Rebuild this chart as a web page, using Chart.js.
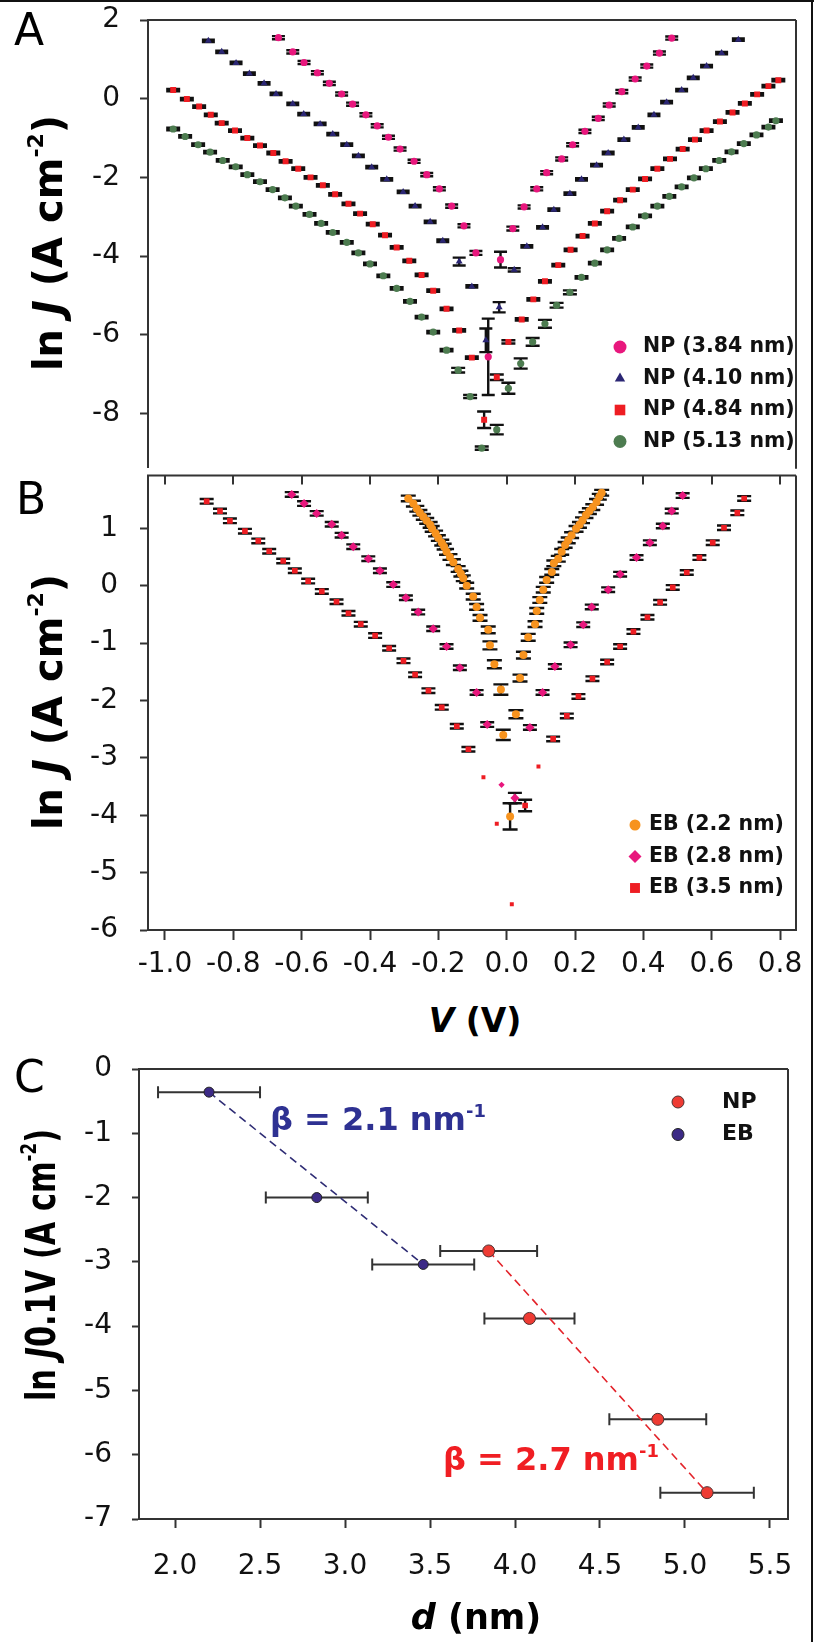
<!DOCTYPE html>
<html lang="en">
<head>
<meta charset="utf-8">
<title>ln J vs V and d</title>
<script src="https://cdn.jsdelivr.net/npm/chart.js@4.4.1/dist/chart.umd.min.js"></script>
<style>
  html, body { margin: 0; padding: 0; background: #fff; }
  #fig { position: relative; width: 814px; height: 1642px; overflow: hidden; font-family: 'DejaVu Sans', sans-serif; color: #000; }
  #fig canvas { position: absolute; left: 0; }
  .edge-top { position: absolute; left: 0; top: 0; width: 814px; height: 2px; background: #111; }
  .edge-right { position: absolute; left: 811px; top: 0; width: 2px; height: 1642px; background: #111; }
  .txt { position: absolute; white-space: nowrap; line-height: 1; }
  .panel { font-size: 44px; }
  .ytitle { font-size: 40px; font-weight: bold; transform: translate(-50%, -50%) rotate(-90deg); }
  .ytitle.narrow { transform: translate(-50%, -50%) rotate(-90deg) scaleX(0.76); }
  .xtitle { font-weight: bold; transform: translate(-50%, -50%); }
  .sup { font-size: 0.55em; position: relative; top: -0.85em; }
  .beta { font-size: 32px; font-weight: bold; }
  .beta .sup { font-size: 0.56em; top: -0.7em; }
</style>
</head>
<body>
<div id="fig">
  <canvas id="chartA" width="814" height="472" style="top:0"></canvas>
  <canvas id="chartB" width="814" height="529" style="top:471px"></canvas>
  <canvas id="chartC" width="814" height="592" style="top:1050px"></canvas>
  <div class="edge-top"></div>
  <div class="edge-right"></div>

  <div class="txt panel" style="left:14px;top:8px">A</div>
  <div class="txt panel" style="left:16px;top:477px">B</div>
  <div class="txt panel" style="left:14px;top:1055px">C</div>

  <div class="txt ytitle" style="left:48px;top:243px">ln <i>J</i> (A cm<span class="sup">-2</span>)</div>
  <div class="txt ytitle" style="left:48px;top:702px">ln <i>J</i> (A cm<span class="sup">-2</span>)</div>
  <div class="txt ytitle narrow" style="left:41px;top:1265px">ln <i>J</i>0.1V (A cm<span class="sup">-2</span>)</div>
  <div class="txt xtitle" style="left:475px;top:1020px;font-size:33px"><i>V</i> (V)</div>
  <div class="txt xtitle" style="left:476px;top:1617px;font-size:35px"><i>d</i> (nm)</div>

  <div class="txt beta" style="left:270px;top:1103px;color:#2e3192">β = 2.1 nm<span class="sup">-1</span></div>
  <div class="txt beta" style="left:443px;top:1443px;color:#f01e23">β = 2.7 nm<span class="sup">-1</span></div>
</div>

<script>
// ---------------------------------------------------------------------------
// Data: [V (V), ln J, error in ln J]
// ---------------------------------------------------------------------------
const vTicks = [-1.0, -0.8, -0.6, -0.4, -0.2, 0.0, 0.2, 0.4, 0.6, 0.8];
const lnJTicksA = [2, 0, -2, -4, -6, -8];
const lnJTicksB = [1, 0, -1, -2, -3, -4, -5, -6];
const dTicks = [2.0, 2.5, 3.0, 3.5, 4.0, 4.5, 5.0, 5.5];
const lnJTicksC = [0, -1, -2, -3, -4, -5, -6, -7];

const labelsA = ['NP (3.84 nm)', 'NP (4.10 nm)', 'NP (4.84 nm)', 'NP (5.13 nm)'];
const labelsB = ['EB (2.2 nm)', 'EB (2.8 nm)', 'EB (3.5 nm)'];
const labelsC = ['NP', 'EB'];

// Panel A - nanoparticle junctions
const np384 = [
  [-0.668, 1.55, .04], [-0.626, 1.19, .04], [-0.593, 0.92, .04], [-0.554, 0.66, .04], [-0.519, 0.39, .04],
  [-0.483, 0.12, .04], [-0.451, -0.14, .04], [-0.412, -0.41, .04], [-0.379, -0.69, .04], [-0.346, -0.98, .04],
  [-0.312, -1.28, .04], [-0.271, -1.59, .04], [-0.234, -1.93, .04], [-0.197, -2.29, .04], [-0.161, -2.73, .04],
  [-0.125, -3.23, .04], [-0.090, -3.92, .05], [-0.054, -6.56, .97], [-0.018, -4.09, .2], [0.018, -3.30, .05],
  [0.051, -2.75, .04], [0.088, -2.29, .04], [0.117, -1.88, .04], [0.161, -1.53, .04], [0.193, -1.17, .04],
  [0.229, -0.83, .04], [0.268, -0.50, .04], [0.300, -0.16, .04], [0.337, 0.18, .04], [0.376, 0.50, .04],
  [0.410, 0.83, .04], [0.447, 1.16, .04], [0.483, 1.54, .04]
];
const np410 = [
  [-0.873, 1.47, .03], [-0.834, 1.19, .03], [-0.792, 0.91, .03], [-0.753, 0.64, .03], [-0.710, 0.39, .03],
  [-0.675, 0.12, .03], [-0.626, -0.13, .03], [-0.594, -0.39, .03], [-0.546, -0.64, .03], [-0.509, -0.90, .03],
  [-0.468, -1.17, .03], [-0.434, -1.45, .03], [-0.395, -1.74, .03], [-0.351, -2.05, .03], [-0.303, -2.37, .03],
  [-0.268, -2.73, .03], [-0.224, -3.13, .03], [-0.187, -3.61, .03], [-0.139, -4.14, .1], [-0.102, -4.77, .03],
  [-0.061, -6.14, .3], [-0.022, -5.30, .13], [0.022, -4.35, .04], [0.059, -3.75, .03], [0.105, -3.27, .03],
  [0.138, -2.82, .03], [0.185, -2.41, .03], [0.219, -2.05, .03], [0.263, -1.69, .03], [0.297, -1.38, .03],
  [0.343, -1.04, .03], [0.385, -0.73, .03], [0.431, -0.41, .03], [0.468, -0.09, .03], [0.512, 0.22, .03],
  [0.546, 0.53, .03], [0.585, 0.83, .03], [0.629, 1.16, .03], [0.678, 1.50, .03]
];
const np484 = [
  [-0.976, 0.22, .03], [-0.936, -0.01, .03], [-0.900, -0.20, .03], [-0.866, -0.41, .03], [-0.834, -0.62, .03],
  [-0.795, -0.81, .03], [-0.759, -1.00, .03], [-0.722, -1.19, .03], [-0.683, -1.38, .03], [-0.647, -1.59, .03],
  [-0.610, -1.78, .03], [-0.574, -2.00, .03], [-0.538, -2.20, .03], [-0.502, -2.43, .03], [-0.463, -2.67, .03],
  [-0.429, -2.92, .03], [-0.392, -3.19, .03], [-0.356, -3.47, .03], [-0.322, -3.78, .03], [-0.285, -4.12, .03],
  [-0.249, -4.48, .03], [-0.215, -4.88, .03], [-0.176, -5.34, .03], [-0.139, -5.89, .03], [-0.102, -6.58, .03],
  [-0.066, -8.16, .21], [-0.029, -7.08, .07], [0.005, -6.18, .04], [0.044, -5.61, .03], [0.078, -5.10, .03],
  [0.112, -4.64, .03], [0.151, -4.23, .03], [0.187, -3.84, .03], [0.222, -3.49, .03], [0.258, -3.17, .03],
  [0.294, -2.86, .03], [0.332, -2.58, .03], [0.369, -2.31, .03], [0.405, -2.04, .03], [0.441, -1.78, .03],
  [0.478, -1.53, .03], [0.515, -1.28, .03], [0.551, -1.04, .03], [0.585, -0.81, .03], [0.624, -0.58, .03],
  [0.661, -0.35, .03], [0.697, -0.12, .03], [0.733, 0.11, .03], [0.766, 0.32, .03], [0.795, 0.47, .03]
];
const np513 = [
  [-0.976, -0.77, .03], [-0.941, -0.96, .03], [-0.903, -1.17, .03], [-0.868, -1.36, .03], [-0.831, -1.57, .03],
  [-0.793, -1.73, .03], [-0.759, -1.93, .03], [-0.722, -2.11, .03], [-0.685, -2.31, .03], [-0.649, -2.52, .03],
  [-0.617, -2.73, .03], [-0.577, -2.94, .03], [-0.543, -3.17, .03], [-0.509, -3.40, .03], [-0.468, -3.65, .03],
  [-0.434, -3.92, .03], [-0.400, -4.20, .03], [-0.361, -4.50, .03], [-0.322, -4.82, .03], [-0.283, -5.15, .03],
  [-0.249, -5.55, .03], [-0.215, -5.93, .03], [-0.176, -6.39, .03], [-0.142, -6.90, .06], [-0.107, -7.57, .04],
  [-0.073, -8.88, .04], [-0.029, -8.41, .12], [0.005, -7.36, .14], [0.041, -6.73, .13], [0.076, -6.18, .1],
  [0.112, -5.72, .1], [0.146, -5.25, .06], [0.185, -4.92, .05], [0.219, -4.54, .03], [0.258, -4.18, .03],
  [0.294, -3.84, .03], [0.329, -3.55, .03], [0.369, -3.26, .03], [0.405, -2.98, .03], [0.441, -2.73, .03],
  [0.476, -2.48, .03], [0.512, -2.24, .03], [0.548, -2.01, .03], [0.583, -1.78, .03], [0.622, -1.57, .03],
  [0.658, -1.35, .03], [0.694, -1.14, .03], [0.731, -0.92, .03], [0.766, -0.72, .03], [0.788, -0.56, .03]
];

// Panel B - e-beam junctions
const eb22 = [
  [-0.288, 1.52, .05], [-0.273, 1.43, .05], [-0.263, 1.34, .05], [-0.254, 1.27, .05], [-0.244, 1.20, .05],
  [-0.234, 1.13, .05], [-0.224, 1.06, .05], [-0.218, 0.99, .05], [-0.208, 0.91, .05], [-0.200, 0.83, .05],
  [-0.190, 0.75, .05], [-0.183, 0.68, .05], [-0.176, 0.59, .05], [-0.166, 0.50, .05], [-0.156, 0.41, .05],
  [-0.142, 0.29, .05], [-0.134, 0.21, .05], [-0.127, 0.13, .05], [-0.117, 0.00, .05], [-0.098, -0.19, .05],
  [-0.088, -0.37, .05], [-0.078, -0.56, .05], [-0.054, -0.77, .06], [-0.049, -1.04, .07], [-0.036, -1.37, .07],
  [-0.017, -1.81, .09], [-0.010, -2.60, .09], [0.010, -4.02, .23], [0.027, -2.24, .07], [0.039, -1.61, .06],
  [0.049, -1.21, .06], [0.063, -0.90, .06], [0.083, -0.67, .05], [0.088, -0.44, .05], [0.097, -0.25, .05],
  [0.107, -0.07, .05], [0.117, 0.10, .05], [0.132, 0.24, .05], [0.138, 0.39, .05], [0.151, 0.47, .05],
  [0.161, 0.59, .05], [0.171, 0.71, .05], [0.180, 0.79, .05], [0.190, 0.88, .05], [0.203, 0.99, .05],
  [0.213, 1.06, .05], [0.222, 1.14, .05], [0.232, 1.23, .05], [0.242, 1.30, .05], [0.252, 1.37, .05],
  [0.263, 1.46, .05], [0.271, 1.55, .05], [0.278, 1.62, .05]
];
const eb28 = [
  [-0.629, 1.59, .04], [-0.593, 1.43, .04], [-0.556, 1.26, .04], [-0.512, 1.07, .04], [-0.483, 0.88, .04],
  [-0.449, 0.68, .04], [-0.405, 0.47, .04], [-0.371, 0.26, .04], [-0.332, 0.02, .04], [-0.295, -0.21, .04],
  [-0.259, -0.46, .04], [-0.215, -0.75, .04], [-0.176, -1.06, .04], [-0.137, -1.43, .04], [-0.088, -1.86, .04],
  [-0.057, -2.42, .04], [-0.015, -3.47, 0], [0.024, -3.70, .09], [0.068, -2.47, .04], [0.105, -1.86, .04],
  [0.141, -1.41, .04], [0.187, -1.03, .04], [0.224, -0.68, .04], [0.249, -0.37, .04], [0.297, -0.07, .04],
  [0.332, 0.20, .04], [0.380, 0.49, .04], [0.419, 0.75, .04], [0.457, 1.04, .04], [0.483, 1.30, .04],
  [0.515, 1.57, .04]
];
const eb35 = [
  [-0.878, 1.47, .04], [-0.839, 1.30, .04], [-0.810, 1.13, .04], [-0.766, 0.95, .04], [-0.727, 0.78, .04],
  [-0.695, 0.60, .04], [-0.654, 0.43, .04], [-0.620, 0.26, .04], [-0.581, 0.08, .04], [-0.541, -0.10, .04],
  [-0.498, -0.28, .04], [-0.463, -0.48, .04], [-0.427, -0.67, .04], [-0.385, -0.87, .04], [-0.344, -1.09, .04],
  [-0.302, -1.31, .04], [-0.268, -1.55, .04], [-0.229, -1.83, .04], [-0.190, -2.12, .04], [-0.146, -2.45, .04],
  [-0.112, -2.85, .04], [-0.068, -3.34, 0], [-0.029, -4.15, 0], [0.015, -5.55, 0], [0.054, -3.83, .1],
  [0.093, -3.15, 0], [0.136, -2.67, .04], [0.176, -2.27, .04], [0.210, -1.93, .04], [0.251, -1.62, .04],
  [0.294, -1.33, .04], [0.332, -1.06, .04], [0.371, -0.80, .04], [0.412, -0.55, .04], [0.449, -0.29, .04],
  [0.486, -0.03, .04], [0.527, 0.23, .04], [0.564, 0.49, .04], [0.603, 0.75, .04], [0.636, 1.01, .04],
  [0.675, 1.27, .04], [0.695, 1.52, .04]
];

// Panel C - ln J at 0.1 V against thickness d (nm), with spread in d
const npD = [3.845, 4.085, 4.84, 5.13];
const npJ = [-2.83, -3.88, -5.45, -6.59];
const npDErr = [0.285, 0.265, 0.285, 0.275];
const ebD = [2.2, 2.834, 3.46];
const ebJ = [-0.36, -2.0, -3.04];
const ebDErr = [0.3, 0.3, 0.3];
const ebFitD = [2.2, 3.46];
const ebFitJ = [-0.36, -3.04];
const npFitD = [3.845, 5.13];
const npFitJ = [-2.83, -6.59];

// ---------------------------------------------------------------------------
// Chart setup
// ---------------------------------------------------------------------------
Chart.defaults.font.family = "'DejaVu Sans', sans-serif";
Chart.defaults.font.size = 28;
Chart.defaults.color = '#111';

const AXIS = '#333';
const toPts = arr => arr.map(([x, y, e]) => ({ x, y, e }));

// error bars drawn underneath the markers
const errorBars = {
  id: 'errorBars',
  beforeDatasetsDraw(chart) {
    const { ctx } = chart;
    const xs = chart.scales.x, ys = chart.scales.y;
    chart.data.datasets.forEach(ds => {
      if (!ds.errBar) return;
      const cap = ds.errBar.cap;
      ctx.save();
      ctx.strokeStyle = ds.errBar.color;
      ctx.lineWidth = ds.errBar.width;
      ctx.beginPath();
      ds.data.forEach(p => {
        const px = xs.getPixelForValue(p.x), py = ys.getPixelForValue(p.y);
        if (p.e) {
          const y1 = ys.getPixelForValue(p.y + p.e), y2 = ys.getPixelForValue(p.y - p.e);
          ctx.moveTo(px, y1); ctx.lineTo(px, y2);
          ctx.moveTo(px - cap, y1); ctx.lineTo(px + cap, y1);
          ctx.moveTo(px - cap, y2); ctx.lineTo(px + cap, y2);
        }
        if (p.xe) {
          const x1 = xs.getPixelForValue(p.x - p.xe), x2 = xs.getPixelForValue(p.x + p.xe);
          ctx.moveTo(x1, py); ctx.lineTo(x2, py);
          ctx.moveTo(x1, py - cap); ctx.lineTo(x1, py + cap);
          ctx.moveTo(x2, py - cap); ctx.lineTo(x2, py + cap);
        }
      });
      ctx.stroke();
      ctx.restore();
    });
  }
};

// legend drawn inside the plot area
const panelLegend = {
  id: 'panelLegend',
  afterDraw(chart, args, opts) {
    if (opts.x == null) return;
    const { ctx } = chart;
    let k = 0;
    chart.data.datasets.forEach(ds => {
      if (!ds.legendRadius) return;
      const y = opts.y + k * opts.step;
      ctx.save();
      ctx.fillStyle = ds.pointBackgroundColor;
      ctx.strokeStyle = ds.pointBorderColor;
      ctx.lineWidth = ds.pointBorderWidth || 0;
      Chart.helpers.drawPoint(ctx, {
        pointStyle: ds.pointStyle, radius: ds.legendRadius, rotation: 0,
        borderWidth: ds.pointBorderWidth || 0
      }, opts.x, y);
      ctx.fillStyle = '#111';
      ctx.font = opts.font;
      ctx.textBaseline = 'middle';
      ctx.textAlign = 'left';
      ctx.fillText(ds.label, opts.textX, y);
      ctx.restore();
      k++;
    });
  }
};

// top / right sides of the box, plus inward ticks on top
const frame = {
  id: 'frame',
  afterDraw(chart, args, opts) {
    if (!opts.on) return;
    const { ctx, chartArea: a } = chart;
    ctx.save();
    ctx.strokeStyle = AXIS;
    ctx.lineWidth = 2;
    ctx.beginPath();
    ctx.moveTo(a.left - 1, a.top); ctx.lineTo(a.right, a.top);
    ctx.moveTo(a.right, a.top); ctx.lineTo(a.right, a.bottom + 1);
    if (opts.topTicks) {
      const xs = chart.scales.x;
      xs.ticks.forEach(t => {
        const px = Math.round(xs.getPixelForValue(t.value));
        ctx.moveTo(px, a.top); ctx.lineTo(px, a.top + opts.topTicks);
      });
    }
    ctx.stroke();
    ctx.restore();
  }
};

Chart.register(errorBars, panelLegend, frame);

function yAxis(min, max, ticks, width, pad, tickLen) {
  return {
    type: 'linear', position: 'left', min, max,
    afterBuildTicks: s => { s.ticks = ticks.map(v => ({ value: v })); },
    afterFit: s => { s.width = width; s.paddingTop = 0; s.paddingBottom = 0; },
    grid: { drawOnChartArea: false, drawTicks: true, tickLength: tickLen, tickWidth: 2, tickColor: AXIS },
    border: { display: true, color: AXIS, width: 2 },
    ticks: { padding: pad, autoSkip: false, color: '#111', callback: v => String(v) }
  };
}

function xAxis(min, max, ticks, height, pad, tickLen, show) {
  return {
    type: 'linear', position: 'bottom', min, max, display: show,
    afterBuildTicks: s => { s.ticks = ticks.map(v => ({ value: v })); },
    afterFit: s => { s.height = height; s.paddingLeft = 0; s.paddingRight = 0; },
    grid: { drawOnChartArea: false, drawTicks: true, tickLength: tickLen, tickWidth: 2, tickColor: AXIS },
    border: { display: true, color: AXIS, width: 2 },
    ticks: { padding: pad, autoSkip: false, maxRotation: 0, color: '#111', callback: v => v.toFixed(1) }
  };
}

function series(label, data, style, color, radius, legendRadius, cap) {
  return {
    label,
    data: toPts(data),
    pointStyle: style,
    pointRadius: ctx => (ctx.raw && ctx.raw.e === 0 ? radius * 0.7 : radius),
    pointBackgroundColor: color,
    pointBorderColor: color,
    pointBorderWidth: 0,
    showLine: false,
    legendRadius,
    errBar: { cap, width: 2.4, color: '#111' }
  };
}

function baseOptions(padding, scales, plugins) {
  return {
    responsive: false,
    animation: false,
    devicePixelRatio: 1,
    layout: { padding },
    scales,
    plugins: Object.assign({ legend: { display: false }, tooltip: { enabled: false } }, plugins)
  };
}

// ---------------------------------------------------------------------------
// A: ln J vs V for NP junctions
// ---------------------------------------------------------------------------
new Chart(document.getElementById('chartA'), {
  type: 'scatter',
  data: {
    datasets: [
      series(labelsA[0], np384, 'circle', '#e8177d', 3.6, 6.5, 6.5),
      series(labelsA[1], np410, 'triangle', '#2b2674', 4, 6, 6.5),
      series(labelsA[2], np484, 'rect', '#ee1d23', 4.2, 7.5, 7),
      series(labelsA[3], np513, 'circle', '#4d7c50', 3.6, 6.5, 7)
    ]
  },
  options: baseOptions(
    { left: 0, top: 20, right: 18, bottom: 2 },
    {
      x: xAxis(-1.0497, 0.8467, vTicks, 0, 0, 0, false),
      y: yAxis(-9.38, 2, lnJTicksA, 148, 20, 8)
    },
    {
      panelLegend: { x: 620, y: 347, step: 31.5, textX: 643, font: "bold 20.5px 'DejaVu Sans'" },
      frame: { on: true }
    }
  )
});

// ---------------------------------------------------------------------------
// B: ln J vs V for EB junctions
// ---------------------------------------------------------------------------
new Chart(document.getElementById('chartB'), {
  type: 'scatter',
  data: {
    datasets: [
      series(labelsB[0], eb22, 'circle', '#f7931e', 4, 5.5, 7.5),
      series(labelsB[1], eb28, 'rectRot', '#e8177d', 4.5, 6.5, 7),
      series(labelsB[2], eb35, 'rect', '#ee1d23', 4, 7, 7)
    ]
  },
  options: baseOptions(
    { left: 0, top: 2, right: 18, bottom: 0 },
    {
      x: xAxis(-1.0497, 0.8467, vTicks, 70, 8, 10, true),
      y: yAxis(-6, 1.92, lnJTicksB, 148, 22, 8)
    },
    {
      panelLegend: { x: 635, y: 354, step: 31.5, textX: 649, font: "bold 20.5px 'DejaVu Sans'" },
      frame: { on: true, topTicks: 9 }
    }
  )
});

// ---------------------------------------------------------------------------
// C: ln J(0.1 V) vs d
// ---------------------------------------------------------------------------
const npPts = npD.map((d, i) => ({ x: d, y: npJ[i], xe: npDErr[i] }));
const ebPts = ebD.map((d, i) => ({ x: d, y: ebJ[i], xe: ebDErr[i] }));

new Chart(document.getElementById('chartC'), {
  type: 'scatter',
  data: {
    datasets: [
      {
        label: labelsC[0], data: npPts, order: 0,
        pointStyle: 'circle', pointRadius: 6, pointBackgroundColor: '#ee3b33',
        pointBorderColor: '#4a3030', pointBorderWidth: 1, showLine: false, legendRadius: 6,
        errBar: { cap: 6, width: 2, color: '#333' }
      },
      {
        label: labelsC[1], data: ebPts, order: 0,
        pointStyle: 'circle', pointRadius: 5, pointBackgroundColor: '#3c2a86',
        pointBorderColor: '#222', pointBorderWidth: 1, showLine: false, legendRadius: 6,
        errBar: { cap: 6, width: 2, color: '#333' }
      },
      {
        label: 'EB fit', data: ebFitD.map((d, i) => ({ x: d, y: ebFitJ[i] })), order: 2,
        showLine: true, pointRadius: 0, borderColor: '#2f2d75', borderWidth: 1.6, borderDash: [8, 5]
      },
      {
        label: 'NP fit', data: npFitD.map((d, i) => ({ x: d, y: npFitJ[i] })), order: 2,
        showLine: true, pointRadius: 0, borderColor: '#e3242b', borderWidth: 1.6, borderDash: [8, 5]
      }
    ]
  },
  options: baseOptions(
    { left: 0, top: 19, right: 26, bottom: 0 },
    {
      x: xAxis(1.788, 5.606, dTicks, 123, 22, 9, true),
      y: yAxis(-7, 0, lnJTicksC, 139, 20, 7)
    },
    {
      panelLegend: { x: 678, y: 52, step: 32.5, textX: 722, font: "bold 22px 'DejaVu Sans'" },
      frame: { on: true }
    }
  )
});
</script>
</body>
</html>
